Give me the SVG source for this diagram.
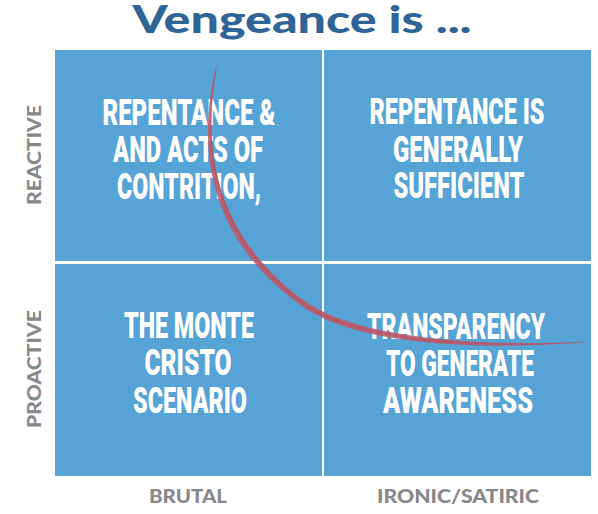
<svg xmlns="http://www.w3.org/2000/svg" width="598" height="514" viewBox="0 0 598 514">
<style>
.q{fill:#56a3d6}
.t{font-family:Roboto,"Liberation Sans",sans-serif;font-weight:900;font-size:36px;fill:#ffffff;text-anchor:middle}
.ax{font-family:Lato,"Open Sans",sans-serif;font-weight:900;font-size:18px;fill:#878889;text-anchor:middle}
.title{font-family:Lato,"Open Sans",sans-serif;font-weight:900;font-size:38px;fill:#2f6496;text-anchor:middle}
</style>
<rect width="598" height="514" fill="#ffffff"/>
<text class="title" x="302" y="33" textLength="339" lengthAdjust="spacingAndGlyphs">Vengeance is ...</text>
<g id="q-reactive-brutal">
<rect class="q" x="55" y="50" width="267" height="211"/>
<text class="t" x="189" y="125" textLength="173" lengthAdjust="spacingAndGlyphs">REPENTANCE &amp;</text>
<text class="t" x="188" y="162" textLength="150" lengthAdjust="spacingAndGlyphs">AND ACTS OF</text>
<text class="t" x="189" y="199" textLength="144" lengthAdjust="spacingAndGlyphs">CONTRITION,</text>
</g>
<g id="q-reactive-ironic">
<rect class="q" x="324" y="50" width="267" height="211"/>
<text class="t" x="457" y="124" textLength="175" lengthAdjust="spacingAndGlyphs">REPENTANCE IS</text>
<text class="t" x="458" y="162" textLength="130" lengthAdjust="spacingAndGlyphs">GENERALLY</text>
<text class="t" x="459" y="198" textLength="131" lengthAdjust="spacingAndGlyphs">SUFFICIENT</text>
</g>
<g id="q-proactive-brutal">
<rect class="q" x="55" y="264" width="267" height="212"/>
<text class="t" x="189" y="338" textLength="130" lengthAdjust="spacingAndGlyphs">THE MONTE</text>
<text class="t" x="188" y="375" textLength="87" lengthAdjust="spacingAndGlyphs">CRISTO</text>
<text class="t" x="190" y="413" textLength="114" lengthAdjust="spacingAndGlyphs">SCENARIO</text>
</g>
<g id="q-proactive-ironic">
<rect class="q" x="324" y="264" width="267" height="212"/>
<text class="t" x="456" y="339" textLength="178" lengthAdjust="spacingAndGlyphs">TRANSPARENCY</text>
<text class="t" x="460" y="376" textLength="148" lengthAdjust="spacingAndGlyphs">TO GENERATE</text>
<text class="t" x="458" y="413" textLength="150" lengthAdjust="spacingAndGlyphs">AWARENESS</text>
</g>
<g id="axis-labels">
<text class="ax" x="188" y="503" textLength="78" lengthAdjust="spacingAndGlyphs">BRUTAL</text>
<text class="ax" x="458" y="503" textLength="162" lengthAdjust="spacingAndGlyphs">IRONIC/SATIRIC</text>
<text class="ax" transform="translate(41,155) rotate(-90)" x="0" y="0" textLength="100" lengthAdjust="spacingAndGlyphs">REACTIVE</text>
<text class="ax" transform="translate(41,369) rotate(-90)" x="0" y="0" textLength="118" lengthAdjust="spacingAndGlyphs">PROACTIVE</text>
</g>
<g id="connectors">
<path d="M217,62 C193,160 216,243 299,304 C349,342 460,352 590,342 C460,347 351,336 301,298.5 C222,238 199,160 217,62 Z" fill="#c05868" fill-opacity="0.9"/>
<path d="M216,70 C200,160 220,240 300,301 C350,339 460,349 585,342" fill="none" stroke="#b04c60" stroke-width="1.2" stroke-opacity="0.5"/>
</g>
</svg>
